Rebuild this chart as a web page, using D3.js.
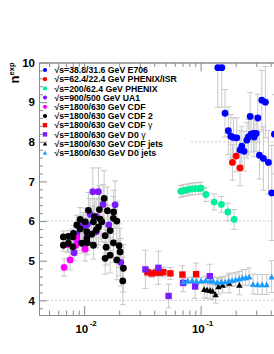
<!DOCTYPE html>
<html>
<head>
<script src="https://d3js.org/d3.v7.min.js"></script>
<style>
  body { margin: 0; background: #fff; }
  svg { display: block; font-family: "Liberation Sans", Arial, sans-serif; }
</style>
</head>
<body>
<svg id="chart" width="274" height="354"></svg>
<script>
// each point is [x_T, n_exp, error]
const e706 = [
  [0.1405, 9.87, 1.0], [0.152, 9.87, 1.0], [0.162, 8.72, 0.6], [0.173, 8.28, 0.6],
  [0.1816, 8.14, 0.55], [0.1912, 8.11, 0.5], [0.2045, 8.10, 0.5], [0.2258, 7.89, 0.5],
  [0.218, 7.79, 0.5], [0.2363, 7.76, 0.5], [0.2494, 8.04, 0.45], [0.2573, 8.12, 0.45],
  [0.2714, 8.19, 0.45], [0.284, 8.21, 0.45], [0.2996, 8.21, 0.45], [0.288, 8.12, 0.5],
  [0.266, 8.64, 0.6], [0.310, 8.60, 0.6], [0.3353, 9.05, 0.75], [0.360, 9.00, 0.9],
  [0.3197, 7.66, 0.6], [0.346, 7.58, 0.8], [0.382, 7.48, 0.8], [0.430, 8.19, 1.0],
  [0.408, 6.71, 1.2]
];
const phenixIsr = [[0.2017, 7.64, 0.4], [0.1875, 7.48, 0.45], [0.218, 7.34, 0.45]];
const phenix = [
  [0.0676, 6.75, 0.15], [0.0711, 6.77, 0.15], [0.0751, 6.78, 0.15], [0.0797, 6.80, 0.15],
  [0.0846, 6.81, 0.15], [0.0902, 6.82, 0.15], [0.0965, 6.82, 0.15], [0.101, 6.83, 0.15],
  [0.111, 6.67, 0.18], [0.1306, 6.48, 0.2], [0.1509, 6.42, 0.2], [0.1712, 6.23, 0.22],
  [0.194, 6.04, 0.25]
];
const ua1 = [
  [0.01188, 6.74, 0.6], [0.01327, 6.74, 0.6], [0.01456, 6.42, 0.5], [0.01845, 6.41, 0.6],
  [0.01126, 6.17, 0.4], [0.01268, 6.12, 0.45], [0.00986, 5.91, 0.3], [0.01067, 5.91, 0.35],
  [0.00975, 5.85, 0.3], [0.01629, 5.90, 0.5], [0.00866, 5.67, 0.25], [0.01067, 5.67, 0.3],
  [0.01268, 5.73, 0.4], [0.00876, 5.46, 0.2], [0.00821, 5.20, 0.2], [0.02065, 4.96, 0.6]
];
const cdf = [
  [0.00674, 4.83, 0.22], [0.00758, 5.02, 0.25], [0.00719, 5.41, 0.2],
  [0.00849, 5.39, 0.25], [0.00866, 5.57, 0.25], [0.0102, 5.29, 0.3]
];
const cdf2 = [
  [0.01485, 6.57, 0.7], [0.01353, 6.29, 0.6], [0.01585, 6.26, 0.6], [0.01792, 6.23, 0.55],
  [0.01089, 6.27, 0.45], [0.00924, 6.04, 0.3], [0.01226, 6.11, 0.45], [0.01372, 6.05, 0.5],
  [0.01784, 6.07, 0.55], [0.01909, 6.00, 0.5], [0.00866, 5.90, 0.25], [0.0102, 5.98, 0.35],
  [0.01202, 5.98, 0.4], [0.01419, 5.98, 0.5], [0.01327, 5.85, 0.45], [0.00924, 5.80, 0.3],
  [0.00809, 5.69, 0.2], [0.01055, 5.73, 0.35], [0.01672, 5.76, 0.5], [0.01164, 5.67, 0.35],
  [0.01268, 5.77, 0.4], [0.00664, 5.60, 0.15], [0.00733, 5.61, 0.15], [0.00800, 5.60, 0.2],
  [0.01515, 5.63, 0.45], [0.01055, 5.56, 0.3], [0.00664, 5.39, 0.15], [0.00733, 5.44, 0.2],
  [0.00800, 5.35, 0.2], [0.00956, 5.44, 0.25], [0.01067, 5.45, 0.3], [0.01202, 5.39, 0.35],
  [0.01545, 5.34, 0.45], [0.01784, 5.45, 0.5], [0.01997, 5.38, 0.55], [0.02037, 5.22, 0.6],
  [0.01515, 5.06, 0.4], [0.01672, 5.14, 0.45], [0.01909, 5.02, 0.5], [0.02174, 4.81, 0.6],
  [0.02148, 4.49, 0.6]
];
const cdfGamma = [
  [0.03494, 4.71, 0.1], [0.0381, 4.68, 0.1], [0.0417, 4.70, 0.1], [0.0449, 4.70, 0.1],
  [0.0479, 4.71, 0.12], [0.0550, 4.68, 0.15], [0.0698, 4.65, 0.22], [0.0915, 4.66, 0.28]
];
const d0Gamma = [
  [0.03357, 4.78, 0.48], [0.04341, 4.82, 0.42], [0.05311, 4.11, 0.3],
  [0.07078, 4.44, 0.22], [0.08971, 4.35, 0.3], [0.1199, 4.61, 0.3]
];
const cdfJets = [
  [0.1072, 4.28, 0.22], [0.1137, 4.27, 0.22], [0.1207, 4.26, 0.22], [0.1268, 4.24, 0.22],
  [0.1345, 4.15, 0.22], [0.1422, 4.35, 0.2], [0.1545, 4.39, 0.2], [0.1756, 4.44, 0.25],
  [0.2153, 4.39, 0.25]
];
const d0Jets = [
  [0.0712, 4.47, 0.08], [0.0778, 4.50, 0.08], [0.0846, 4.51, 0.08], [0.0924, 4.49, 0.08],
  [0.101, 4.50, 0.08], [0.1104, 4.51, 0.1], [0.1207, 4.50, 0.1], [0.1281, 4.49, 0.1],
  [0.1386, 4.46, 0.12], [0.150, 4.47, 0.12], [0.1623, 4.47, 0.14], [0.1739, 4.50, 0.15],
  [0.1864, 4.51, 0.16], [0.1997, 4.53, 0.17], [0.2140, 4.55, 0.18], [0.2285, 4.57, 0.2],
  [0.2443, 4.58, 0.2], [0.2609, 4.60, 0.22], [0.2822, 4.41, 0.25], [0.3085, 4.40, 0.25],
  [0.3373, 4.40, 0.25], [0.3686, 4.40, 0.25], [0.4069, 4.60, 0.4]
];

const legendLabels = [
  "√s=38.8/31.6 GeV E706", "√s=62.4/22.4 GeV PHENIX/ISR", "√s=200/62.4 GeV PHENIX",
  "√s=900/500 GeV UA1", "√s=1800/630 GeV CDF", "√s=1800/630 GeV CDF 2",
  "√s=1800/630 GeV CDF γ", "√s=1800/630 GeV D0 γ", "√s=1800/630 GeV CDF jets",
  "√s=1800/630 GeV D0 jets"
];
const yTicks = [4, 5, 6, 7, 8, 9, 10];
const yGrid = [4, 6, 8];
const xTicks = [0.01, 0.1];
const xTickExp = ["-2", "-1"];

const series = [
  { data: e706, color: "#0000ff", shape: "circle" },
  { data: phenixIsr, color: "#ff0000", shape: "circle" },
  { data: phenix, color: "#00f09a", shape: "circle" },
  { data: ua1, color: "#7a1cff", shape: "circle" },
  { data: cdf, color: "#ff00ff", shape: "circle" },
  { data: cdf2, color: "#000000", shape: "circle" },
  { data: cdfGamma, color: "#ff0000", shape: "square" },
  { data: d0Gamma, color: "#7a1cff", shape: "square" },
  { data: cdfJets, color: "#000000", shape: "triangle" },
  { data: d0Jets, color: "#1a9bff", shape: "triangle" }
];

const plotLeft = 39, plotTop = 62.5, plotBottom = 315;
const xMin = 0.0041, xMax = 0.6, decade = 116.5;
const x = d3.scaleLog().domain([xMin, xMax])
  .range([plotLeft, plotLeft + decade * Math.log10(xMax / xMin)]);
const y = d3.scaleLinear().domain([3.63, 10]).range([plotBottom, plotTop]);
const plotRight = x.range()[1];

const svg = d3.select("#chart");

svg.append("defs").append("clipPath").attr("id", "plot")
  .append("rect").attr("x", plotLeft).attr("y", plotTop)
  .attr("width", plotRight - plotLeft).attr("height", plotBottom - plotTop);

// dashed grid
svg.append("g").selectAll("line").data(yGrid).join("line")
  .attr("x1", plotLeft).attr("x2", plotRight)
  .attr("y1", d => y(d)).attr("y2", d => y(d))
  .attr("stroke", "#bdbdbd").attr("stroke-width", 0.8)
  .attr("stroke-dasharray", "2,2");

const plot = svg.append("g").attr("clip-path", "url(#plot)");

// error bars first, all series
series.forEach(s => {
  const g = plot.append("g").attr("stroke", "#c8c8c8").attr("stroke-width", 1);
  s.data.forEach(d => {
    const cx = x(d[0]), y1 = y(d[1] - d[2]), y2 = y(d[1] + d[2]);
    g.append("line").attr("x1", cx).attr("x2", cx).attr("y1", y1).attr("y2", y2);
    g.append("line").attr("x1", cx - 3).attr("x2", cx + 3).attr("y1", y1).attr("y2", y1);
    g.append("line").attr("x1", cx - 3).attr("x2", cx + 3).attr("y1", y2).attr("y2", y2);
  });
});

function marker(g, shape, cx, cy, size, color) {
  if (shape === "circle") {
    g.append("circle").attr("cx", cx).attr("cy", cy).attr("r", size / 2).attr("fill", color);
  } else if (shape === "square") {
    g.append("rect").attr("x", cx - size / 2).attr("y", cy - size / 2)
      .attr("width", size).attr("height", size).attr("fill", color);
  } else {
    const h = size * 0.9;
    g.append("path")
      .attr("d", `M${cx - size / 2},${cy + h / 2}L${cx + size / 2},${cy + h / 2}L${cx},${cy - h / 2}Z`)
      .attr("fill", color);
  }
}

series.forEach(s => {
  const g = plot.append("g");
  s.data.forEach(d => {
    marker(g, s.shape, x(d[0]), y(d[1]), s.shape === "circle" ? 6.8 : 6.4, s.color);
  });
});

// legend
svg.append("rect").attr("x", plotLeft + 1).attr("y", plotTop + 1)
  .attr("width", 150).attr("height", 95).attr("fill", "#fff");
const leg = svg.append("g");
legendLabels.forEach((t, i) => {
  const cy = 70 + i * 9.2;
  marker(leg, series[i].shape, 45, cy, series[i].shape === "circle" ? 4.2 : 4.4, series[i].color);
  const txt = leg.append("text").attr("x", 54.5).attr("y", cy + 3.1)
    .attr("font-size", 8.7).attr("font-weight", "bold").attr("fill", "#000");
  const gi = t.indexOf("γ");
  if (gi >= 0) {
    txt.append("tspan").text(t.slice(0, gi));
    txt.append("tspan").attr("font-weight", "normal").text("γ");
  } else {
    txt.text(t);
  }
});

// axes
const axisColor = "#8c8c8c";
function styleAxis(g) {
  g.selectAll(".domain").attr("stroke", axisColor);
  g.selectAll(".tick line").attr("stroke", axisColor);
}

const yMinor = d3.range(3.8, 10.001, 0.2).filter(v => Math.abs(v - Math.round(v)) > 0.01);
svg.append("g").attr("transform", `translate(${plotLeft},0)`)
  .call(d3.axisLeft(y).tickValues(yMinor).tickSize(-4).tickSizeOuter(0).tickFormat(""))
  .call(styleAxis);
svg.append("g").attr("transform", `translate(${plotLeft},0)`)
  .call(d3.axisLeft(y).tickValues(yTicks).tickSize(-8).tickSizeOuter(0).tickPadding(4)
    .tickFormat(d3.format("d")))
  .call(styleAxis)
  .call(g => g.selectAll("text").attr("font-size", 11.5).attr("font-weight", "bold")
    .attr("fill", "#000").attr("font-family", "Liberation Sans, Arial, sans-serif"));

const xMinor = [];
[0.001, 0.01, 0.1].forEach(p => {
  for (let k = 2; k <= 9; k++) {
    const v = p * k;
    if (v > xMin && v < xMax) xMinor.push(v);
  }
});

[[plotBottom, d3.axisBottom], [plotTop, d3.axisTop]].forEach(([pos, ax]) => {
  svg.append("g").attr("transform", `translate(0,${pos})`)
    .call(ax(x).tickValues(xMinor).tickSize(-4.5).tickSizeOuter(0).tickFormat(""))
    .call(styleAxis);
  svg.append("g").attr("transform", `translate(0,${pos})`)
    .call(ax(x).tickValues(xTicks).tickSize(-9).tickSizeOuter(0).tickFormat(""))
    .call(styleAxis);
});

// x tick labels as 10^n
const xl = svg.append("g");
xTicks.forEach((v, i) => {
  const t = xl.append("text").attr("x", x(v) + 2).attr("y", 333)
    .attr("text-anchor", "middle").attr("font-weight", "bold")
    .attr("font-size", 11.5).attr("fill", "#000");
  t.append("tspan").text("10");
  t.append("tspan").attr("dx", 1.5).attr("dy", -7).attr("font-size", 8).text(xTickExp[i]);
});

// y title
const yt = svg.append("text").attr("transform", `translate(19,${plotTop}) rotate(-90)`)
  .attr("text-anchor", "end").attr("font-weight", "bold").attr("fill", "#000")
  .attr("font-size", 13);
yt.append("tspan").text("n");
yt.append("tspan").attr("dy", -5.5).attr("font-size", 7.5).text("exp");
</script>
</body>
</html>
